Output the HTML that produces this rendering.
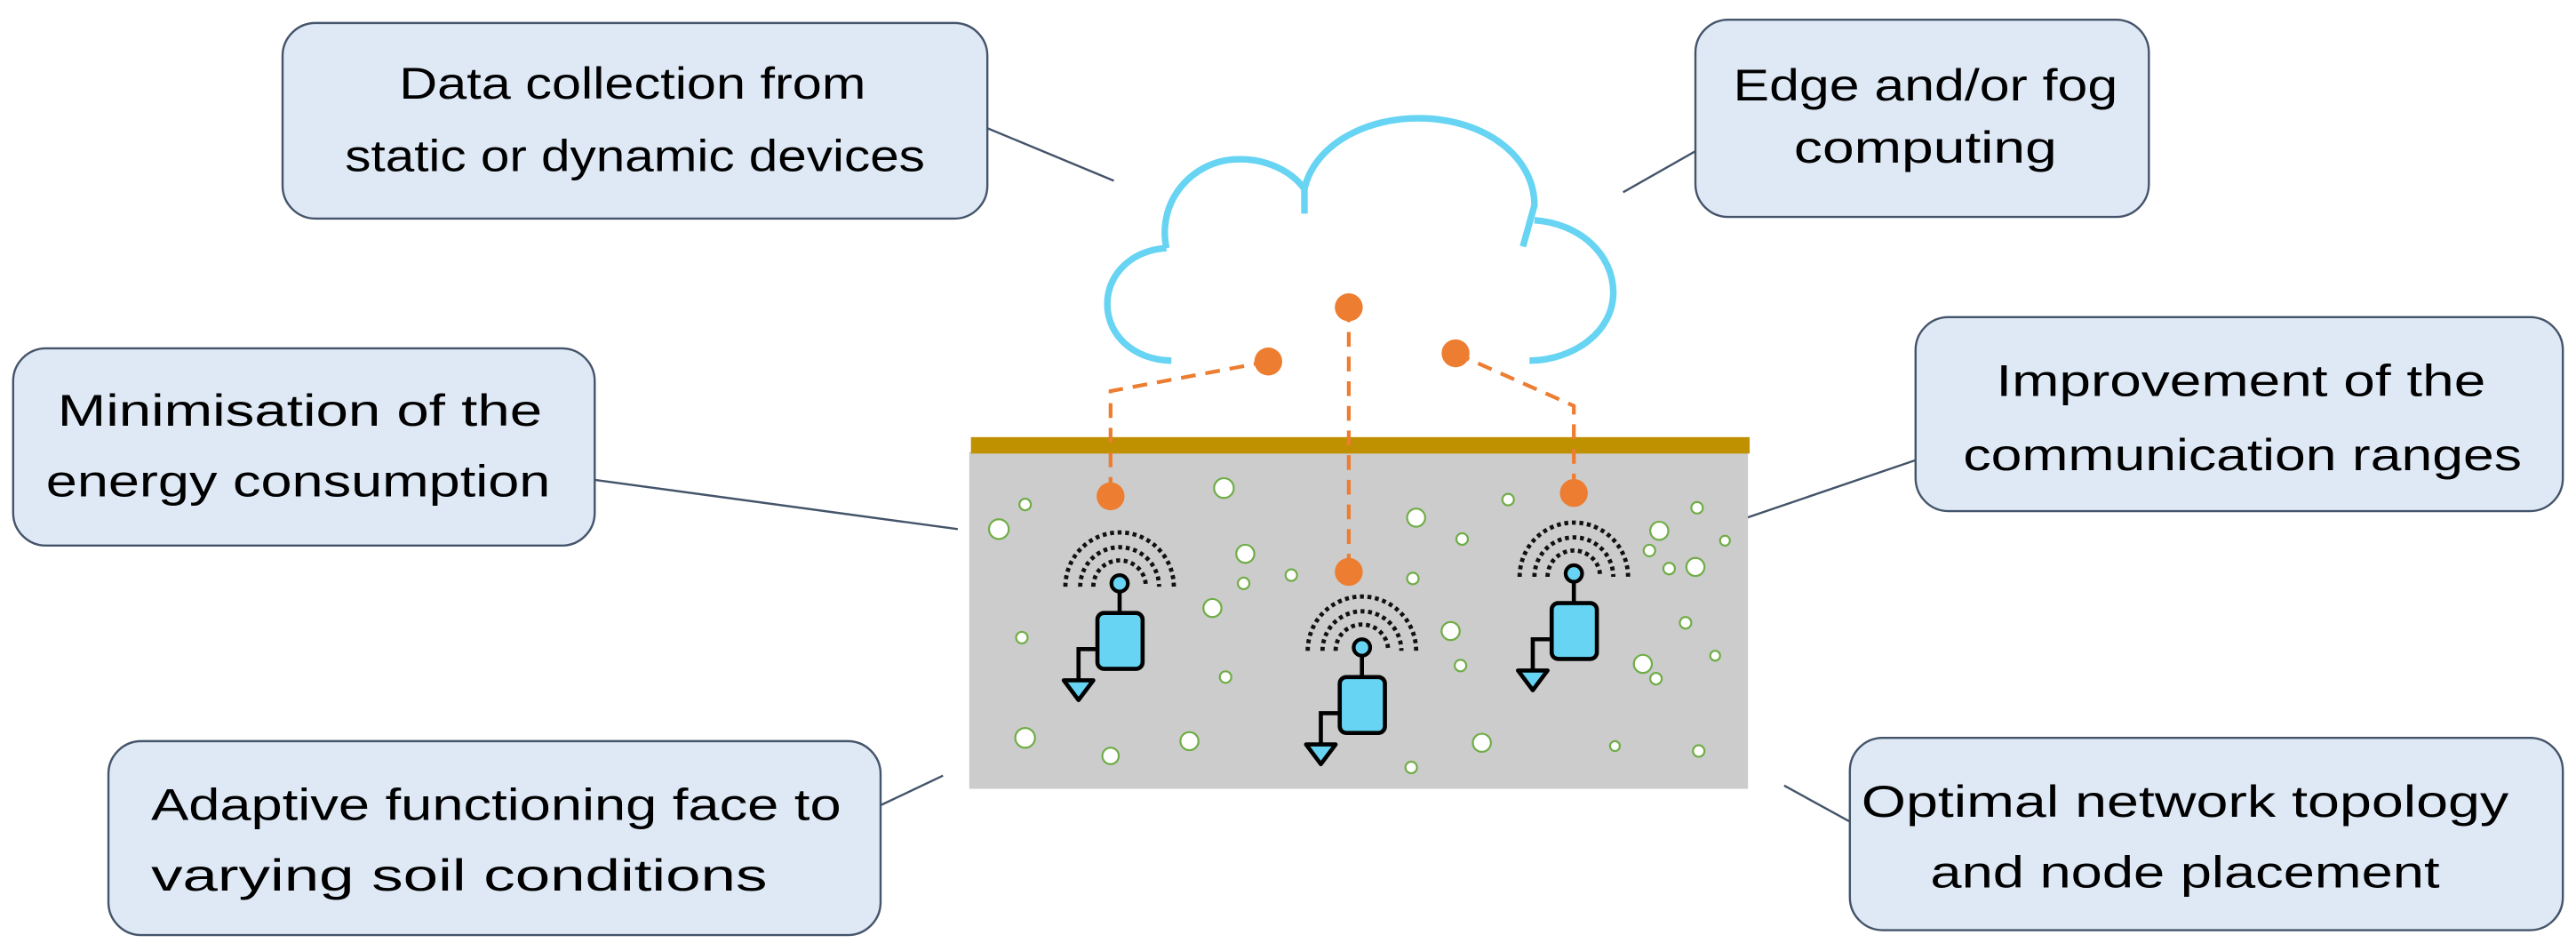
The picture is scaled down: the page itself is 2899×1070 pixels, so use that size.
<!DOCTYPE html>
<html><head><meta charset="utf-8"><style>
html,body{margin:0;padding:0;background:#fff;}
svg{display:block;}
text{font-family:"Liberation Sans",sans-serif;font-size:27px;fill:#000;}
</style></head><body>
<svg width="2899" height="1070" viewBox="0 0 1568 578.7" preserveAspectRatio="none" xmlns="http://www.w3.org/2000/svg">
<defs>
<g id="node">
 <path d="M-33,2 A33,33 0 0 1 33,2" fill="none" stroke="#111" stroke-width="2.6" stroke-dasharray="2.4,2.2"/>
 <path d="M-24,2 A24,24 0 0 1 24,2" fill="none" stroke="#111" stroke-width="2.6" stroke-dasharray="2.4,2.2"/>
 <path d="M-16,2 A16,16 0 0 1 16,2" fill="none" stroke="#111" stroke-width="2.6" stroke-dasharray="2.4,2.2"/>
 <line x1="0" y1="4" x2="0" y2="18" stroke="#000" stroke-width="2.5"/>
 <rect x="-13.5" y="18" width="27.5" height="34" rx="4" fill="#66d4f2" stroke="#000" stroke-width="2.5"/>
 <circle cx="0" cy="0" r="5" fill="#66d4f2" stroke="#000" stroke-width="2.3"/>
 <polyline points="-13.5,40 -25,40 -25,59" fill="none" stroke="#000" stroke-width="2.5"/>
 <polygon points="-34,59 -16,59 -25,71" fill="#66d4f2" stroke="#000" stroke-width="2.5" stroke-linejoin="round"/>
</g>
</defs>
<g stroke="#44546a" stroke-width="1.3">
<line x1="601" y1="78" x2="678" y2="110"/>
<line x1="1032" y1="92" x2="988" y2="117"/>
<line x1="362" y1="292" x2="583" y2="322"/>
<line x1="1166" y1="280" x2="1037" y2="324"/>
<line x1="536" y1="490" x2="574" y2="472"/>
<line x1="1126" y1="500" x2="1086" y2="478"/>
</g>
<g fill="#dee9f5" stroke="#44546a" stroke-width="1.3">
<rect x="172" y="14" width="429" height="119" rx="20"/>
<rect x="1032" y="12" width="276" height="120" rx="20"/>
<rect x="8" y="212" width="354" height="120" rx="20"/>
<rect x="1166" y="193" width="394" height="118" rx="20"/>
<rect x="66" y="451" width="470" height="118" rx="20"/>
<rect x="1126" y="449" width="434" height="117" rx="20"/>
</g>
<text x="243" y="60" textLength="284" lengthAdjust="spacingAndGlyphs">Data collection  from</text>
<text x="210" y="104" textLength="353" lengthAdjust="spacingAndGlyphs">static or dynamic devices</text>
<text x="1055" y="61" textLength="234" lengthAdjust="spacingAndGlyphs">Edge and/or fog</text>
<text x="1092" y="99" textLength="160" lengthAdjust="spacingAndGlyphs">computing</text>
<text x="35" y="259" textLength="295" lengthAdjust="spacingAndGlyphs">Minimisation of the</text>
<text x="28" y="302" textLength="307" lengthAdjust="spacingAndGlyphs">energy consumption</text>
<text x="1215" y="241" textLength="298" lengthAdjust="spacingAndGlyphs">Improvement of the</text>
<text x="1195" y="286" textLength="340" lengthAdjust="spacingAndGlyphs">communication ranges</text>
<text x="92" y="499" textLength="420" lengthAdjust="spacingAndGlyphs">Adaptive functioning  face to</text>
<text x="92" y="542" textLength="375" lengthAdjust="spacingAndGlyphs">varying soil conditions</text>
<text x="1133" y="497" textLength="394" lengthAdjust="spacingAndGlyphs">Optimal network topology</text>
<text x="1175" y="540" textLength="310" lengthAdjust="spacingAndGlyphs">and node placement</text>
<g fill="none" stroke="#66d4f2" stroke-width="4">
<path d="M713,219.5 C690,219 674,204 674,185 C674,166 690,152 710,151"/>
<path d="M710,151 C704,122 726,98 752,97 C770,96 786,104 794,115"/>
<path d="M794,115 L794,130"/>
<path d="M794,115 C800,88 832,71 866,72 C904,73 934,95 934,125 L927,150"/>
<path d="M934,134 C962,136 982,155 982,178 C982,202 958,219 931,219.5"/>
</g>
<rect x="590" y="275" width="474" height="205" fill="#cccccc"/>
<rect x="591" y="266" width="474" height="10" fill="#bf9000"/>
<g fill="#fff" stroke="#70ad47" stroke-width="1.2">
<circle cx="624" cy="307" r="3.5"/><circle cx="608" cy="322" r="6"/><circle cx="745" cy="297" r="6"/>
<circle cx="758" cy="337" r="5.5"/><circle cx="757" cy="355" r="3.5"/><circle cx="738" cy="370" r="5.5"/>
<circle cx="786" cy="350" r="3.5"/><circle cx="622" cy="388" r="3.5"/><circle cx="746" cy="412" r="3.5"/>
<circle cx="624" cy="449" r="6"/><circle cx="676" cy="460" r="5"/><circle cx="724" cy="451" r="5.5"/>
<circle cx="862" cy="315" r="5.5"/><circle cx="860" cy="352" r="3.5"/><circle cx="890" cy="328" r="3.5"/>
<circle cx="883" cy="384" r="5.5"/><circle cx="889" cy="405" r="3.5"/><circle cx="859" cy="467" r="3.5"/>
<circle cx="902" cy="452" r="5.5"/><circle cx="918" cy="304" r="3.5"/><circle cx="983" cy="454" r="3"/>
<circle cx="1034" cy="457" r="3.5"/><circle cx="1010" cy="323" r="5.5"/><circle cx="1004" cy="335" r="3.5"/>
<circle cx="1016" cy="346" r="3.5"/><circle cx="1032" cy="345" r="5.5"/><circle cx="1033" cy="309" r="3.5"/>
<circle cx="1050" cy="329" r="3"/><circle cx="1026" cy="379" r="3.5"/><circle cx="1044" cy="399" r="3"/>
<circle cx="1000" cy="404" r="5.5"/><circle cx="1008" cy="413" r="3.5"/>
</g>
<g fill="none" stroke="#ed7d31" stroke-width="2.3" stroke-dasharray="9,6">
<polyline points="772,220 676,238 676,302"/>
<line x1="821" y1="187" x2="821" y2="348"/>
<polyline points="886,215 958,247 958,300"/>
</g>
<g fill="#ed7d31">
<circle cx="821" cy="187" r="8.5"/><circle cx="772" cy="220" r="8.5"/><circle cx="886" cy="215" r="8.5"/>
<circle cx="676" cy="302" r="8.5"/><circle cx="821" cy="348" r="8.5"/><circle cx="958" cy="300" r="8.5"/>
</g>
<use href="#node" x="681.5" y="355"/>
<use href="#node" x="829" y="394"/>
<use href="#node" x="958" y="349"/>
</svg>
</body></html>
